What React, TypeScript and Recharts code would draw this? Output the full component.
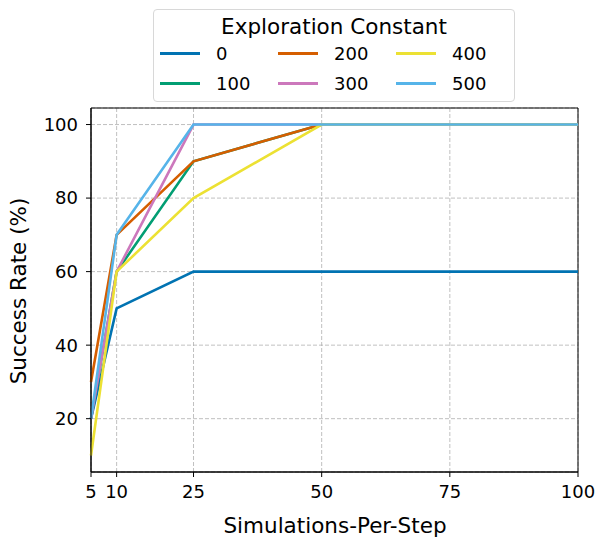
import { LineChart, Line, XAxis, YAxis, CartesianGrid, ReferenceArea } from 'recharts'

const steps = [5, 10, 25, 50, 100]
const c0 = [20, 50, 60, 60, 60]
const c100 = [20, 60, 90, 100, 100]
const c200 = [30, 70, 90, 100, 100]
const c300 = [20, 60, 100, 100, 100]
const c400 = [10, 60, 80, 100, 100]
const c500 = [20, 70, 100, 100, 100]
const xTicks = [5, 10, 25, 50, 75, 100]
const yTicks = [20, 40, 60, 80, 100]

const series = [
  { key: 'c0', name: '0', color: '#0173b2' },
  { key: 'c100', name: '100', color: '#029e73' },
  { key: 'c200', name: '200', color: '#d55e00' },
  { key: 'c300', name: '300', color: '#cc78bc' },
  { key: 'c400', name: '400', color: '#ece133' },
  { key: 'c500', name: '500', color: '#56b4e9' },
]

const data = steps.map((s, i) => ({
  s,
  c0: c0[i],
  c100: c100[i],
  c200: c200[i],
  c300: c300[i],
  c400: c400[i],
  c500: c500[i],
}))

const font = 'DejaVu Sans, sans-serif'

const LegendBox = () => {
  // matplotlib ncol=3 fills column by column
  const cols = [series.slice(0, 2), series.slice(2, 4), series.slice(4, 6)]
  return (
    <div style={{
      position: 'absolute', left: 153, top: 9, width: 362, height: 93,
      border: '1px solid #d8d8d8', borderRadius: 4, background: '#fff',
      fontFamily: font, color: '#000', boxSizing: 'border-box',
    }}>
      <div style={{ textAlign: 'center', fontSize: 21.5, lineHeight: '26px', marginTop: 4, height: 24 }}>Exploration Constant</div>
      <div style={{ display: 'flex', paddingLeft: 6 }}>
        {cols.map((col, ci) => (
          <div key={ci} style={{ width: 128 }}>
            {col.map(s => (
              <div key={s.key} style={{ display: 'flex', alignItems: 'center', height: 30, fontSize: 18 }}>
                <div style={{ width: 40, height: 3, background: s.color, marginRight: 16 }} />
                <span>{s.name}</span>
              </div>
            ))}
          </div>
        ))}
      </div>
    </div>
  )
}

export default function App() {
  return (
    <div style={{ position: 'absolute', left: 0, top: 0, width: 597, height: 542, background: '#fff' }}>
      <LineChart width={597} height={542} data={data} margin={{ top: 108, right: 19, left: 0, bottom: 40 }}>
        <CartesianGrid stroke="#b0b0b0" strokeDasharray="4 2" strokeWidth={0.8} />
        <XAxis
          dataKey="s" type="number" domain={[5, 100]} ticks={xTicks} interval={0}
          height={30} tickSize={5} stroke="#000" tickMargin={8}
          tick={{ fill: '#000', fontSize: 18, fontFamily: font }}
        />
        <YAxis
          type="number" domain={[5.5, 104.5]} ticks={yTicks} allowDataOverflow
          width={91} tickSize={5} stroke="#000" tickMargin={8}
          tick={{ fill: '#000', fontSize: 18, fontFamily: font }}
        />
        <ReferenceArea x1={5} x2={100} y1={5.5} y2={104.5} fill="none" stroke="#000" strokeWidth={1} ifOverflow="visible" />
        {series.map(s => (
          <Line key={s.key} dataKey={s.key} name={s.name} stroke={s.color} strokeWidth={2.6}
            dot={false} isAnimationActive={false} type="linear" />
        ))}
      </LineChart>
      <div style={{
        position: 'absolute', left: 18, top: 291, transform: 'translate(-50%, -50%) rotate(-90deg)',
        fontFamily: font, fontSize: 21.5, whiteSpace: 'nowrap', color: '#000',
      }}>Success Rate (%)</div>
      <div style={{
        position: 'absolute', left: 335, top: 525, transform: 'translate(-50%, -50%)',
        fontFamily: font, fontSize: 21.5, whiteSpace: 'nowrap', color: '#000',
      }}>Simulations-Per-Step</div>
      <LegendBox />
    </div>
  )
}
